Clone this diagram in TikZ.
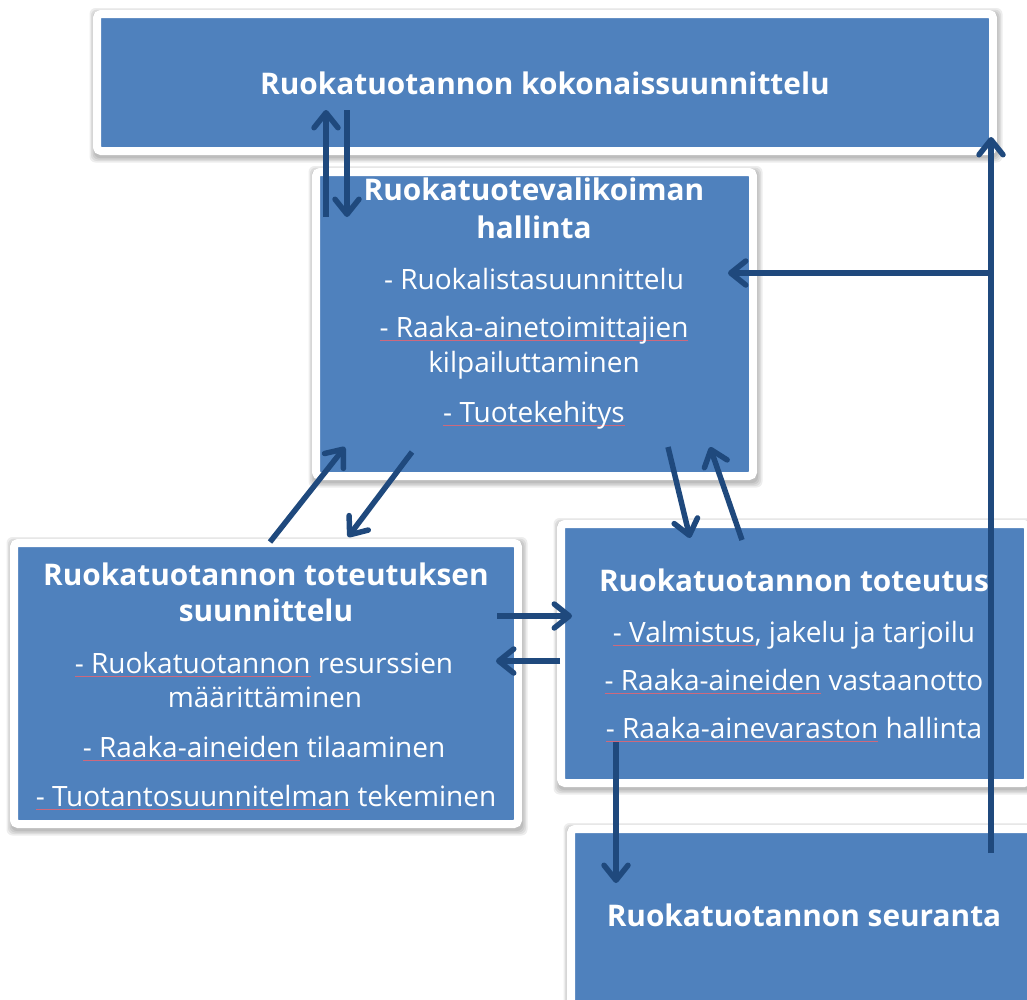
\documentclass[tikz,border=0pt]{standalone}
\usepackage{fontspec}
\setmainfont{Open Sans}
\usetikzlibrary{arrows.meta}
\definecolor{boxblue}{HTML}{4F81BD}
\definecolor{arrblue}{HTML}{1F497D}
\definecolor{sqred}{RGB}{205,105,125}
\newsavebox\sqbox
\newcommand\sqline[1]{\sbox\sqbox{#1}\leavevmode\rlap{\textcolor{sqred}{\rule[-3.5pt]{\wd\sqbox}{0.7pt}}}\usebox\sqbox}
\pgfdeclarelayer{bg}
\pgfsetlayers{bg,main}
\tikzset{
  panel/.style={fill=boxblue, draw=white, line width=8pt, rounded corners=4pt, inner sep=0pt},
  pshadow/.style={fill=black, fill opacity=0.07, rounded corners=6pt},
  ttl/.style={text=white, font=\fontsize{29.8}{36}\selectfont\bfseries, anchor=base, inner sep=0pt},
  itm/.style={text=white, font=\fontsize{28}{34}\selectfont, anchor=base, inner sep=0pt},
  arr/.style={draw=arrblue, line width=5.5pt, -{Straight Barb[length=15pt, width=24pt, line cap=round, line join=round]}}
}
\newcommand\castshadow[1]{%
  \begin{pgfonlayer}{bg}
    \foreach \e in {0,1.5,3,4.5}{
      \fill[pshadow] ([shift={(1-\e,2.5-\e)}]#1.north west) rectangle ([shift={(1+\e,3+\e)}]#1.south east);
    }
  \end{pgfonlayer}}
\begin{document}
\begin{tikzpicture}[x=1pt, y=-1pt]
\useasboundingbox (0,0) rectangle (1027,999);
\clip (0,0) rectangle (1027,999);
\begin{pgfonlayer}{bg}
\fill[white] (0,0) rectangle (1027,999);
\end{pgfonlayer}

% panels
\node[panel, minimum width=896pt, minimum height=137pt] (top) at (545,82.5) {};
\castshadow{top}
\node[panel, minimum width=437pt, minimum height=304pt] (b2) at (534.5,324) {};
\castshadow{b2}
\node[panel, minimum width=504pt, minimum height=281pt] (b3) at (266,683.5) {};
\castshadow{b3}
\node[panel, minimum width=467pt, minimum height=259pt] (b4) at (794.5,653.5) {};
\castshadow{b4}
\node[panel, minimum width=461pt, minimum height=177pt] (b5) at (801.5,917.5) {};
\castshadow{b5}

% texts
\node[ttl] (t0) at (545,94) {Ruokatuotannon kokonaissuunnittelu};

\node[ttl] (t2a) at (534,200) {Ruokatuotevalikoiman};
\node[ttl] (t2b) at (534,238) {hallinta};
\node[itm] (t2c) at (534,289) {- Ruokalistasuunnittelu};
\node[itm] (t2d) at (534,337) {\sqline{- Raaka-ainetoimittajien}};
\node[itm] (t2e) at (534,372) {kilpailuttaminen};
\node[itm] (t2f) at (534,422) {\sqline{- Tuotekehitys}};

\node[ttl] (t3a) at (266,585) {Ruokatuotannon toteutuksen};
\node[ttl] (t3b) at (266,621) {suunnittelu};
\node[itm] (t3c) at (264,673) {\sqline{- Ruokatuotannon} resurssien};
\node[itm] (t3d) at (265,707) {määrittäminen};
\node[itm] (t3e) at (264,757) {\sqline{- Raaka-aineiden} tilaaminen};
\node[itm] (t3f) at (266,806) {\sqline{- Tuotantosuunnitelman} tekeminen};

\node[ttl] (t4a) at (794,591) {Ruokatuotannon toteutus};
\node[itm] (t4b) at (794,642) {\sqline{- Valmistus}, jakelu ja tarjoilu};
\node[itm] (t4c) at (794,690) {\sqline{- Raaka-aineiden} vastaanotto};
\node[itm] (t4d) at (794,738) {\sqline{- Raaka-ainevaraston} hallinta};

\node[ttl] (t5a) at (804,926) {Ruokatuotannon seuranta};

% arrow end points
\coordinate (u1s) at (326,217); \coordinate (u1e) at (326,110);
\coordinate (d1s) at (347,110); \coordinate (d1e) at (347,217);
\coordinate (rvb) at (991,853); \coordinate (rvt) at (991,137);
\coordinate (rvj) at (991,273); \coordinate (rvh) at (728,273);
\coordinate (a5s) at (270,542); \coordinate (a5e) at (345,447);
\coordinate (a6s) at (412,452); \coordinate (a6e) at (348,537);
\coordinate (a7s) at (668,447); \coordinate (a7e) at (690,538);
\coordinate (a8s) at (742,540); \coordinate (a8e) at (710,447);
\coordinate (a9s) at (497,616); \coordinate (a9e) at (572,616);
\coordinate (a10s) at (560,661); \coordinate (a10e) at (496,661);
\coordinate (a11s) at (616,742); \coordinate (a11e) at (616,883);

\draw[arr] (u1s) -- (u1e);
\draw[arr] (d1s) -- (d1e);
\draw[arr] (rvb) -- (rvt);
\draw[arr] (rvj) -- (rvh);
\draw[arr] (a5s) -- (a5e);
\draw[arr] (a6s) -- (a6e);
\draw[arr] (a7s) -- (a7e);
\draw[arr] (a8s) -- (a8e);
\draw[arr] (a9s) -- (a9e);
\draw[arr] (a10s) -- (a10e);
\draw[arr] (a11s) -- (a11e);
\end{tikzpicture}
\end{document}
